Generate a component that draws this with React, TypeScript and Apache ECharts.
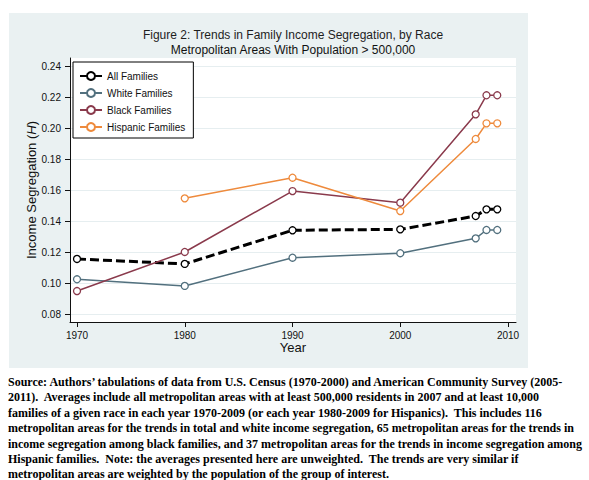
import React, { useEffect, useRef } from "react";
import * as echarts from "echarts";

const years = [1970, 1980, 1990, 2000, 2007, 2008, 2009];
const allFamilies = [0.1157, 0.1125, 0.1342, 0.1348, 0.1434, 0.1477, 0.1477];
const whiteFamilies = [0.1026, 0.0983, 0.1165, 0.1194, 0.129, 0.1344, 0.1344];
const blackFamilies = [0.095, 0.1202, 0.1595, 0.152, 0.209, 0.2213, 0.2213];
const hispanicFamilies: (number | null)[] = [null, 0.1548, 0.1681, 0.1466, 0.1931, 0.2032, 0.2032];

const yTicks = [0.08, 0.1, 0.12, 0.14, 0.16, 0.18, 0.2, 0.22, 0.24];
const xTicks = [1970, 1980, 1990, 2000, 2010];

const titleText = "Figure 2: Trends in Family Income Segregation, by Race";
const subtitleText = "Metropolitan Areas With Population > 500,000";

const sourceLines = [
  "Source: Authors\u2019 tabulations of data from U.S. Census (1970-2000) and American Community Survey (2005-",
  "2011).  Averages include all metropolitan areas with at least 500,000 residents in 2007 and at least 10,000",
  "families of a given race in each year 1970-2009 (or each year 1980-2009 for Hispanics).  This includes 116",
  "metropolitan areas for the trends in total and white income segregation, 65 metropolitan areas for the trends in",
  "income segregation among black families, and 37 metropolitan areas for the trends in income segregation among",
  "Hispanic families.  Note: the averages presented here are unweighted.  The trends are very similar if",
  "metropolitan areas are weighted by the population of the group of interest.",
];

const SANS = '"Liberation Sans", Arial, sans-serif';
const SERIF = '"Liberation Serif", "Times New Roman", serif';

function pairs(vals: (number | null)[]) {
  return years
    .map((y, i) => [y, vals[i]])
    .filter((p) => p[1] !== null);
}

function lineSeries(name: string, vals: (number | null)[], color: string, width: number, type: any) {
  return {
    name,
    type: "line",
    data: pairs(vals),
    symbol: "circle",
    symbolSize: 7,
    itemStyle: { color: "#fff", borderColor: color, borderWidth: 1.3 },
    lineStyle: { color, width, type },
    emphasis: { disabled: true },
  };
}

export default function App() {
  const ref = useRef<HTMLDivElement>(null);
  useEffect(() => {
    const chart = echarts.init(ref.current!, null, { renderer: "svg" });
    const option: any = {
      animation: false,
      graphic: [
        {
          type: "rect",
          z: -10,
          shape: { x: 9, y: 13, width: 519, height: 355 },
          style: { fill: "#eaf1f2" },
          silent: true,
        },
        {
          type: "text",
          x: 293,
          y: 35,
          style: { text: titleText, font: `12px ${SANS}`, fill: "#1e1e1e", align: "center", verticalAlign: "middle" },
        },
        {
          type: "text",
          x: 293,
          y: 50,
          style: { text: subtitleText, font: `12px ${SANS}`, fill: "#111", align: "center", verticalAlign: "middle" },
        },
        ...sourceLines.map((t, i) => ({
          type: "text",
          x: 8,
          y: 382 + i * 15.4,
          style: { text: t, font: `bold 12px ${SERIF}`, fill: "#000", align: "left", verticalAlign: "middle" },
        })),
      ],
      grid: {
        left: 70,
        right: 73,
        top: 58,
        bottom: 158,
        show: true,
        backgroundColor: "#fff",
        borderWidth: 0,
      },
      legend: {
        orient: "vertical",
        left: 73,
        top: 62,
        backgroundColor: "#fff",
        borderColor: "#000",
        borderWidth: 1,
        borderRadius: 0,
        padding: [8, 8, 5, 6],
        itemGap: 5,
        itemWidth: 22,
        itemHeight: 10,
        textStyle: { fontSize: 10, color: "#111", fontFamily: SANS, lineHeight: 12 },
        data: ["All Families", "White Families", "Black Families", "Hispanic Families"],
      },
      xAxis: {
        type: "value",
        min: 1969.35,
        max: 2010.74,
        name: "Year",
        nameLocation: "middle",
        nameGap: 19,
        nameMoveOverlap: false,
        nameTextStyle: { fontSize: 13, color: "#111", fontFamily: SANS },
        axisLine: { show: true, onZero: false, lineStyle: { color: "#111", width: 1 } },
        axisTick: { show: true, length: 5, lineStyle: { color: "#111" }, customValues: xTicks },
        axisLabel: {
          fontSize: 10,
          color: "#111",
          fontFamily: SANS,
          margin: 8,
          customValues: xTicks,
          formatter: (v: number) => String(Math.round(v)),
        },
        splitLine: { show: false },
      },
      yAxis: {
        type: "value",
        min: 0.07503,
        max: 0.24535,
        name: "Income Segregation ({i|H})",
        nameLocation: "middle",
        nameGap: 32,
        nameMoveOverlap: false,
        nameTextStyle: {
          fontSize: 13,
          color: "#111",
          fontFamily: SANS,
          rich: { i: { fontStyle: "italic", fontSize: 13, color: "#111", fontFamily: SANS } },
        },
        axisLine: { show: true, onZero: false, lineStyle: { color: "#111", width: 1 } },
        axisTick: { show: true, length: 5, lineStyle: { color: "#111" }, customValues: yTicks },
        axisLabel: {
          fontSize: 10,
          color: "#111",
          fontFamily: SANS,
          margin: 9,
          customValues: yTicks,
          formatter: (v: number) => v.toFixed(2),
        },
        splitLine: { show: true, lineStyle: { color: "#e6eef0", width: 1 } },
      },
      series: [
        lineSeries("All Families", allFamilies, "#000000", 3, [9, 4]),
        lineSeries("White Families", whiteFamilies, "#52707e", 1.5, "solid"),
        lineSeries("Black Families", blackFamilies, "#8a3a4c", 1.5, "solid"),
        lineSeries("Hispanic Families", hispanicFamilies, "#ee8a3c", 1.5, "solid"),
      ],
    };
    chart.setOption(option);
    return () => chart.dispose();
  }, []);
  return (
    <div
      ref={ref}
      style={{ position: "absolute", left: 0, top: 0, width: 589, height: 480 }}
    />
  );
}
